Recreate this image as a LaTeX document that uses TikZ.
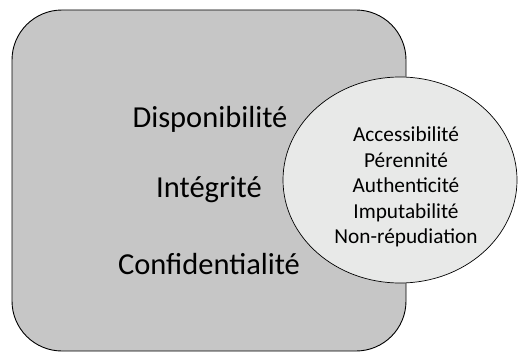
\documentclass[tikz,border=0pt]{standalone}
\usepackage{fontspec}
\setmainfont{Carlito}
\usepackage{tikz}
\usetikzlibrary{shapes.geometric,positioning}
\usepackage{xcolor}
\definecolor{boxgray}{HTML}{C6C6C6}
\definecolor{ovalgray}{HTML}{E8E9E8}

\begin{document}
\begin{tikzpicture}[
    x=1pt, y=-1pt,
    bigbox/.style={draw, line width=0.9pt, rounded corners=50pt, fill=boxgray,
                   minimum width=394pt, minimum height=341pt, inner sep=0pt},
    oval/.style={draw, ellipse, line width=0.7pt, fill=ovalgray,
                 minimum width=234pt, minimum height=206pt, inner sep=0pt},
    bigtxt/.style={font=\fontsize{30.5}{34}\selectfont},
    smalltxt/.style={font=\fontsize{21.3}{25.5}\selectfont, align=center}
  ]
  \useasboundingbox (0,0) rectangle (518,353);

  %% ---- main box with the three criteria ----
  \node[bigbox]  (main)  at (209,180.5) {};
  \node[bigtxt]  (dispo) at (210,119)   {Disponibilité};
  \node[bigtxt]  (integ) at (209,190)   {Intégrité};
  \node[bigtxt]  (confi) at (209,264)   {Confidentialité};

  %% ---- extended criteria ----
  \node[oval]     (ext)  at (400,180) {};
  \node[smalltxt] (more) at (406,187)
    {Accessibilité\\Pérennité\\Authenticité\\Imputabilité\\Non-répudiation};

\end{tikzpicture}
\end{document}
